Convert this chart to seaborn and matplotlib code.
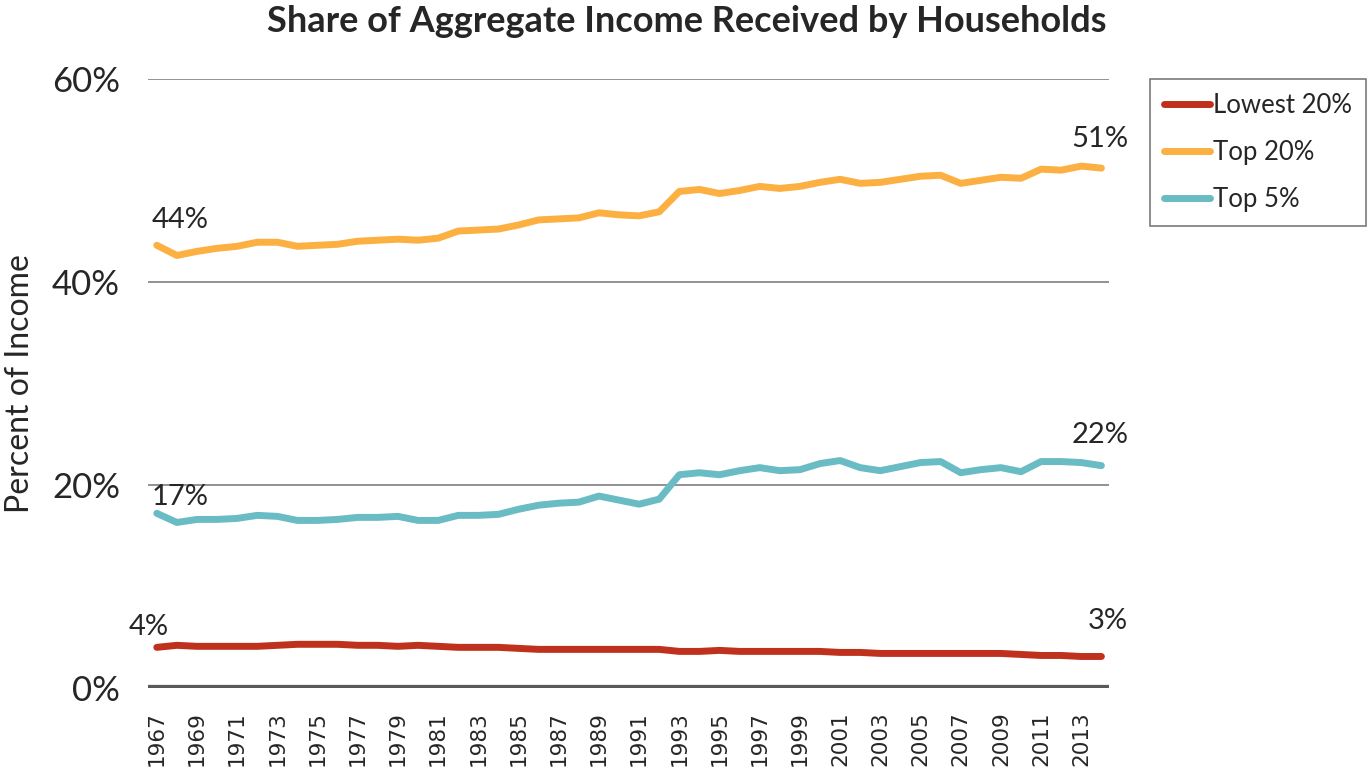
import numpy as np
import pandas as pd
import matplotlib
matplotlib.use('Agg')
import matplotlib.pyplot as plt
import seaborn as sns

years = list(range(1967, 2015))

lowest_20 = [4.0, 4.2, 4.1, 4.1, 4.1, 4.1, 4.2, 4.3, 4.3, 4.3, 4.2, 4.2, 4.1, 4.2, 4.1, 4.0,
             4.0, 4.0, 3.9, 3.8, 3.8, 3.8, 3.8, 3.8, 3.8, 3.8, 3.6, 3.6, 3.7, 3.6, 3.6, 3.6,
             3.6, 3.6, 3.5, 3.5, 3.4, 3.4, 3.4, 3.4, 3.4, 3.4, 3.4, 3.3, 3.2, 3.2, 3.1, 3.1]
top_20 = [43.6, 42.6, 43.0, 43.3, 43.5, 43.9, 43.9, 43.5, 43.6, 43.7, 44.0, 44.1, 44.2, 44.1, 44.3, 45.0,
          45.1, 45.2, 45.6, 46.1, 46.2, 46.3, 46.8, 46.6, 46.5, 46.9, 48.9, 49.1, 48.7, 49.0, 49.4, 49.2,
          49.4, 49.8, 50.1, 49.7, 49.8, 50.1, 50.4, 50.5, 49.7, 50.0, 50.3, 50.2, 51.1, 51.0, 51.4, 51.2]
top_5 = [17.2, 16.3, 16.6, 16.6, 16.7, 17.0, 16.9, 16.5, 16.5, 16.6, 16.8, 16.8, 16.9, 16.5, 16.5, 17.0,
         17.0, 17.1, 17.6, 18.0, 18.2, 18.3, 18.9, 18.5, 18.1, 18.6, 21.0, 21.2, 21.0, 21.4, 21.7, 21.4,
         21.5, 22.1, 22.4, 21.7, 21.4, 21.8, 22.2, 22.3, 21.2, 21.5, 21.7, 21.3, 22.3, 22.3, 22.2, 21.9]

series_names = ['Lowest 20%', 'Top 20%', 'Top 5%']
colors = ['#c0311d', '#fdb042', '#6abcc4']

df = pd.DataFrame({'year': years, 'Lowest 20%': lowest_20, 'Top 20%': top_20, 'Top 5%': top_5})
long_df = df.melt(id_vars='year', var_name='group', value_name='share')

sns.set_style('white')
plt.rcParams['font.family'] = ['Lato', 'DejaVu Sans']

fig = plt.figure(figsize=(13.68, 7.8), dpi=100)
ax = fig.add_axes([0.108, 0.118, 0.703, 0.781])

sns.lineplot(data=long_df, x='year', y='share', hue='group', hue_order=series_names,
             palette=colors, linewidth=5, ax=ax, solid_capstyle='round')

ax.set_ylim(0, 60)
ax.set_xlim(1966.55, 2014.4)
ax.set_yticks([0, 20, 40, 60])
ax.set_yticklabels(['0%', '20%', '40%', '60%'], fontsize=25)
ax.set_xticks(years[::2])
ax.set_xticklabels([str(y) for y in years[::2]], rotation=90, fontsize=15.5,
                   family='DejaVu Sans')
ax.tick_params(axis='y', length=0, pad=20)
ax.tick_params(axis='x', length=0, pad=17)

# gridlines and the heavy zero line
for v in [20, 40, 60]:
    ax.axhline(v, color='#7f7f7f', linewidth=1.2, zorder=0)
ax.axhline(0, color='#595959', linewidth=4.5, zorder=1)

for s in ax.spines.values():
    s.set_visible(False)

ax.set_xlabel('')
ax.set_ylabel('Percent of Income', fontsize=23)
ax.yaxis.set_label_coords(-0.117, 0.5)
fig.text(0.502, 0.993, 'Share of Aggregate Income Received by Households', fontsize=26,
         fontweight='bold', ha='center', va='top')

# start and end labels
ax.text(1966.75, 44.8, '44%', fontsize=21, ha='left', va='bottom')
ax.text(1966.75, 17.5, '17%', fontsize=21, ha='left', va='bottom')
ax.text(1965.6, 4.7, '4%', fontsize=21, ha='left', va='bottom')
ax.text(2012.5, 52.8, '51%', fontsize=21, ha='left', va='bottom')
ax.text(2012.5, 23.6, '22%', fontsize=21, ha='left', va='bottom')
ax.text(2013.3, 5.3, '3%', fontsize=21, ha='left', va='bottom')

leg = ax.legend(loc='upper left', bbox_to_anchor=(1.042, 1.0), fontsize=18.5, frameon=True,
                fancybox=False, edgecolor='#595959', handlelength=1.8, handletextpad=0.1,
                labelspacing=0.85, borderpad=0.55, borderaxespad=0)
leg.get_frame().set_linewidth(1.2)

fig.savefig('out.png', dpi=100)
